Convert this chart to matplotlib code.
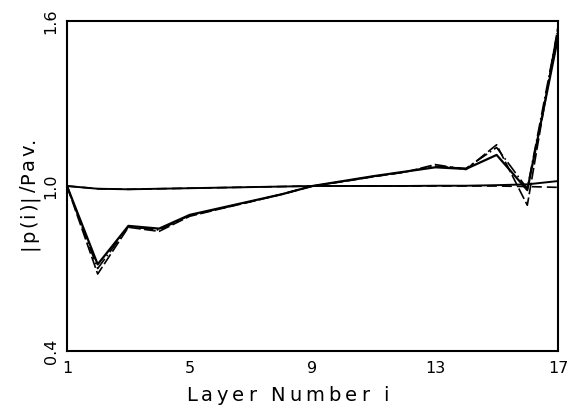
import matplotlib.pyplot as plt
from matplotlib.font_manager import FontProperties, findfont
from matplotlib.ft2font import FT2Font

# layer index and normalised intensity |p(i)|/Pav for each run
layers = list(range(1, 18))
p_solid = [1.0, 0.715, 0.855, 0.845, 0.895, 0.92, 0.945, 0.97, 1.0, 1.018,
           1.036, 1.052, 1.068, 1.062, 1.113, 0.985, 1.54]
p_dashed = [1.0, 0.68, 0.85, 0.835, 0.89, 0.917, 0.943, 0.97, 1.0, 1.016,
            1.034, 1.05, 1.078, 1.06, 1.15, 0.93, 1.58]
p_dashdot = [1.0, 0.70, 0.852, 0.84, 0.893, 0.918, 0.944, 0.97, 1.0, 1.017,
             1.035, 1.051, 1.072, 1.064, 1.14, 0.99, 1.57]
# nearly uniform profiles
p_flat = [1.0, 0.99, 0.988, 0.99, 0.992, 0.994, 0.996, 0.998, 1.0, 1.0,
          1.0, 1.0, 1.001, 1.001, 1.003, 1.006, 1.018]
p_flat2 = [1.0, 0.99, 0.988, 0.99, 0.992, 0.994, 0.996, 0.998, 1.0, 1.0,
           1.0, 1.0, 1.0, 1.0, 1.0, 0.998, 0.995]

xticks = [1, 5, 9, 13, 17]
yticks = [0.4, 1.0, 1.6]

W, H, DPI = 581, 413, 100
fig = plt.figure(figsize=(W / DPI, H / DPI), dpi=DPI)
ax = fig.add_axes([67 / W, 62 / H, 491 / W, 330 / H])

ax.plot(layers, p_flat2, color="black", lw=1.2, ls=(0, (6, 3)))
ax.plot(layers, p_flat, color="black", lw=1.4)
ax.plot(layers, p_dashdot, color="black", lw=1.2, ls=(0, (8, 2, 1, 2)))
ax.plot(layers, p_dashed, color="black", lw=1.2, ls=(0, (7, 2)))
ax.plot(layers, p_solid, color="black", lw=1.6)

ax.set_xlim(1, 17)
ax.set_ylim(0.4, 1.6)
ax.set_xticks(xticks)
ax.set_yticks(yticks)
ax.set_xticklabels([str(t) for t in xticks], fontsize=11.5)
ax.set_yticklabels([f"{t:.1f}" for t in yticks], fontsize=11.5,
                   rotation=90, va="center")
ax.tick_params(axis="x", length=0, pad=7)
ax.tick_params(axis="y", length=0, pad=6)
for s in ax.spines.values():
    s.set_linewidth(1.5)


def spaced_label(s, x0, y0, size, gap, vertical=False):
    """Write s one glyph at a time with extra gap (pixels) between glyphs.
    (x0, y0) is the baseline start in pixels from the top-left corner."""
    prop = FontProperties(family="DejaVu Sans", size=size)
    font = FT2Font(findfont(prop))
    font.set_size(size, DPI)
    pos = 0.0
    for c in s:
        adv = font.load_char(ord(c)).linearHoriAdvance / 65536
        if vertical:
            x, y, rot = x0, y0 - pos, 90
        else:
            x, y, rot = x0 + pos, y0, 0
        fig.text(x / W, 1 - y / H, c, fontproperties=prop, rotation=rot,
                 rotation_mode="anchor", ha="left", va="baseline")
        pos += adv + gap


spaced_label("Layer Number i", 186, 401, 14, 4.0)
spaced_label("|p(i)|/Pav.", 34, 250, 14, 1.9, vertical=True)

fig.savefig("out.png", dpi=DPI)
